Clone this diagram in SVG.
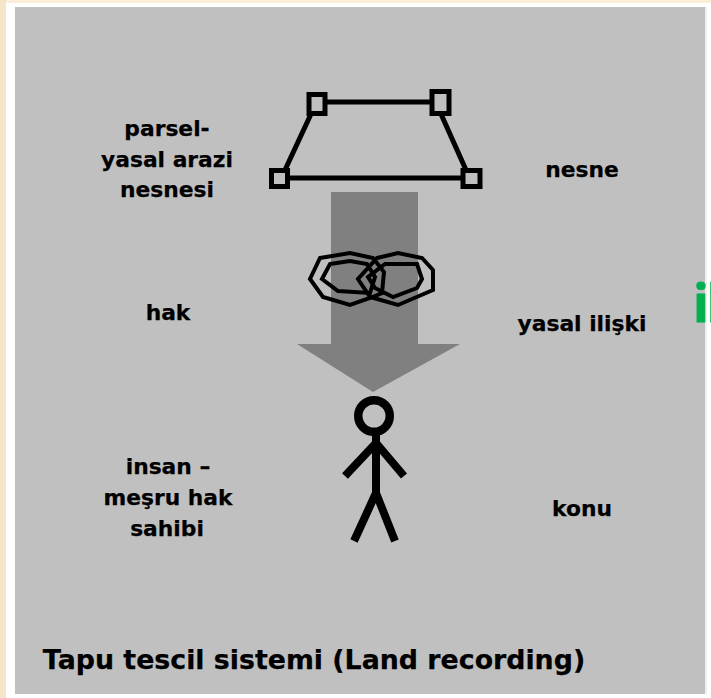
<svg xmlns="http://www.w3.org/2000/svg" width="711" height="698" viewBox="0 0 711 698">
<defs>
<style>
text{font-family:"DejaVu Sans","Liberation Sans",sans-serif;font-weight:bold;fill:#000;stroke:#000;stroke-width:.25;font-size:21.800px;text-anchor:middle}
.l{fill:none;stroke:#000;stroke-width:5}
.s{fill:#c0c0c0;stroke:#000;stroke-width:5}
.r{fill:none;stroke:#000;stroke-width:4}
</style>
</defs>
<rect width="711" height="698" fill="#fff"/>
<rect width="711" height="3" fill="#fdeeda"/>
<rect width="6" height="698" fill="#f4e6c6"/>
<rect x="15" y="7" width="690" height="687" fill="#c0c0c0"/>
<rect x="705" y="7" width="2" height="687" fill="#eee"/>
<g id="arrow"><polygon points="331,192 418,192 418,344 460,344 373,392 297,344 331,344" fill="#808080"/></g>
<g id="parcel">
<path class="l" d="M317,102H440M279,178H471M311,114L285,170M441,114L466,170"/>
<rect class="s" x="309" y="94.500" width="16" height="19"/>
<rect class="s" x="432" y="91.500" width="17" height="22"/>
<rect class="s" x="271.500" y="170.500" width="16" height="16"/>
<rect class="s" x="463" y="170.500" width="17" height="16"/>
</g>
<g id="link">
<polygon class="r" points="320,258 350,253 373,258 384,272 382,293 370,298 350,305 323,297 310,279"/>
<polygon class="r" points="330,264 350,261 367,264 375,277 370,293 338,291 322,279"/>
<polygon class="r" points="377,258 398,253 422,258 433,270 433,290 398,305 370,297 358,279"/>
<polygon class="r" points="385,264 417,264 422,279 417,288 393,297 375,288 368,277"/>
</g>
<g id="person">
<circle cx="374" cy="416" r="15.750" fill="none" stroke="#000" stroke-width="8.500"/>
<path fill="none" stroke="#000" stroke-width="8" d="M376,434V493L354,541M376,493L395,541M345,476L376,443L404,476"/>
</g>
<g id="labels">
<text x="167" y="136">parsel-</text>
<text x="167" y="167">yasal arazi</text>
<text x="167" y="197">nesnesi</text>
<text x="582" y="177">nesne</text>
<text x="168" y="320">hak</text>
<text x="582" y="331">yasal ilişki</text>
<text x="168" y="474">insan –</text>
<text x="168" y="505">meşru hak</text>
<text x="167" y="536">sahibi</text>
<text x="582" y="516">konu</text>
<text x="314" y="669" style="font-size:26.800px">Tapu tescil sistemi (Land recording)</text>
<text x="693" y="322" style="font-family:'Open Sans',sans-serif;font-size:52px;fill:#00b050;stroke:#00b050;stroke-width:1;stroke-linejoin:round;text-anchor:start;letter-spacing:-2px">il</text>
</g>
</svg>
